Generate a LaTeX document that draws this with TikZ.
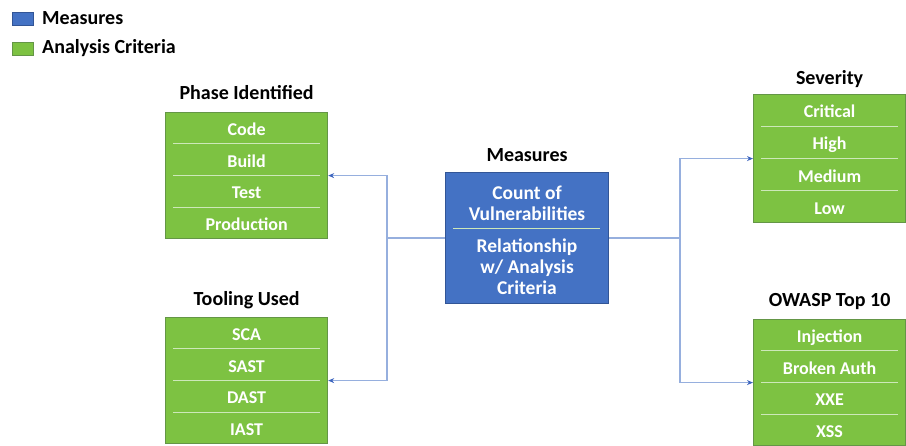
\documentclass[tikz,border=0pt]{standalone}
\usepackage{fontspec}
\setmainfont{Carlito}
\usetikzlibrary{arrows.meta,calc}
\definecolor{gfill}{RGB}{125,194,66}
\definecolor{gline}{RGB}{100,150,70}
\definecolor{bfill}{RGB}{68,114,196}
\definecolor{bline}{RGB}{50,85,150}
\definecolor{sepc}{RGB}{205,232,185}
\definecolor{connc}{RGB}{150,175,222}
\definecolor{tipc}{RGB}{60,100,190}
\tikzset{
  gbox/.style={draw=gline, line width=1.2pt, fill=gfill, anchor=north west, inner sep=0pt},
  bbox/.style={draw=bline, line width=1.2pt, fill=bfill, anchor=north west, inner sep=0pt},
  ttl/.style={font=\bfseries\fontsize{20}{22}\selectfont, text=black, inner sep=0pt},
  rowtxt/.style={font=\bfseries\fontsize{18}{20}\selectfont, text=white, inner sep=0pt, anchor=base},
  meastxt/.style={font=\bfseries\fontsize{19.5}{21}\selectfont, text=white, align=center, inner sep=0pt},
  sepl/.style={draw=sepc, line width=1pt},
  conn/.style={draw=connc, line width=1.4pt},
  arr/.style={conn, -{Stealth[length=6pt,width=5pt,color=tipc]}},
  leg/.style={font=\bfseries\fontsize{20}{22}\selectfont, anchor=west, inner sep=0pt},
}
\begin{document}
\begin{tikzpicture}[x=1pt,y=-1pt]
\useasboundingbox (0,0) rectangle (906,446);
% legend
\node[draw=bline, fill=bfill, minimum width=21pt, minimum height=13pt, inner sep=0pt] (legm) at (22.5,18.5) {};
\node[leg] (legmt) at (42,18.5) {Measures};
\node[draw=gline, fill=gfill, minimum width=21pt, minimum height=13pt, inner sep=0pt] (legc) at (22.5,48.5) {};
\node[leg] (legct) at (42,48.5) {Analysis Criteria};
% boxes
\node[gbox, minimum width=162pt, minimum height=126pt] (phase) at (165,112) {};
\node[gbox, minimum width=162pt, minimum height=126pt] (tool) at (165,317) {};
\node[gbox, minimum width=152pt, minimum height=128pt] (sev) at (753,94) {};
\node[gbox, minimum width=152pt, minimum height=126pt] (owasp) at (753,319) {};
\node[bbox, minimum width=163pt, minimum height=131pt] (meas) at (445,172) {};
% titles
\node[ttl] (phaset) at ([yshift=19pt]phase.north) {Phase Identified};
\node[ttl] (toolt) at ([yshift=17pt]tool.north) {Tooling Used};
\node[ttl] (sevt) at ([yshift=15pt]sev.north) {Severity};
\node[ttl] (owaspt) at ([yshift=17pt]owasp.north) {OWASP Top 10};
\node[ttl] (meast) at ([yshift=17pt]meas.north) {Measures};
% rows
\foreach \b/\list in {phase/{Code,Build,Test,Production}, tool/{SCA,SAST,DAST,IAST}, sev/{Critical,High,Medium,Low}, owasp/{Injection,Broken Auth,XXE,XSS}}{
  \foreach \t [count=\i] in \list {
    \node[rowtxt] (\b r\i) at ($(\b.north)!{(\i-0.5)/4}!(\b.south)+(0,7.5)$) {\t};
  }
  \foreach \i in {1,2,3}{
    \draw[sepl] ($(\b.north west)!{\i/4}!(\b.south west)+(8,0)$) -- ($(\b.north east)!{\i/4}!(\b.south east)+(-8,0)$);
  }
}
% measures content
\node[meastxt] (m1) at (527,203) {Count of\\Vulnerabilities};
\draw[sepl] (453,229) -- (600,229);
\node[meastxt] (m2) at (527,267) {Relationship\\w/ Analysis\\Criteria};
% connectors
\coordinate (lj) at (387,238);
\coordinate (rj) at (680,238);
\draw[conn] (meas.west |- lj) -- (lj);
\draw[arr] (lj) |- (phase.east);
\draw[arr] (lj) |- (tool.east);
\draw[conn] (meas.east |- rj) -- (rj);
\draw[arr] (rj) |- (sev.west);
\draw[arr] (rj) |- (owasp.west);
\end{tikzpicture}
\end{document}
